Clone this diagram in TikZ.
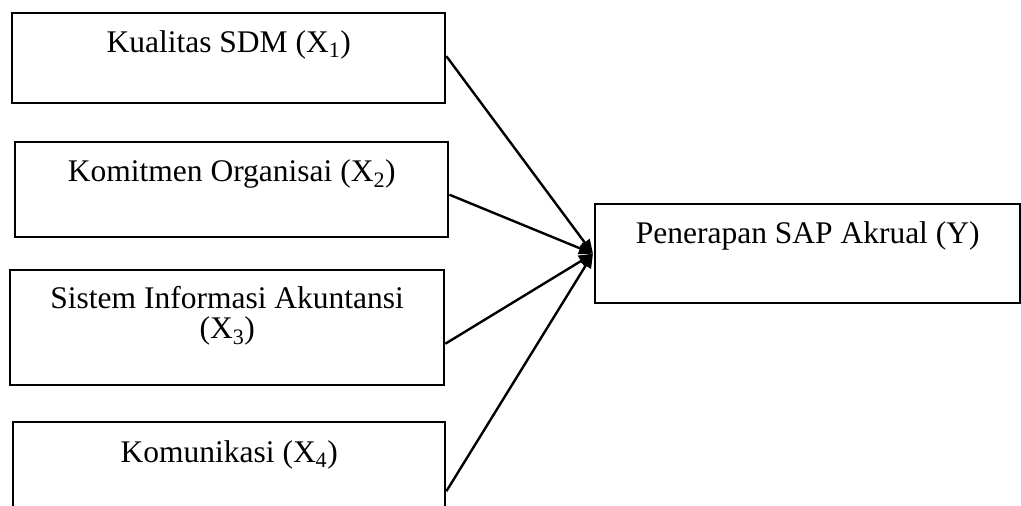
\documentclass[tikz,border=0pt]{standalone}
\usepackage{fontspec}
\setmainfont{Liberation Serif}
\usetikzlibrary{arrows.meta}
\begin{document}
\begin{tikzpicture}[x=1pt,y=-1pt,
  box/.style={draw=black, line width=2.4pt, rectangle, inner sep=0pt, anchor=north west},
  txt/.style={font=\fontsize{31.5}{30}\selectfont, inner sep=0pt, anchor=base, align=center},
  link/.style={draw=black, line width=2.4pt, -{Triangle[length=14pt,width=12pt]}}]
\useasboundingbox (0,0) rectangle (1021,506);
\clip (0,0) rectangle (1021,506);
\node[box, minimum width=433pt, minimum height=90pt] (b1) at (11,12) {};
\node[box, minimum width=433pt, minimum height=95pt] (b2) at (14,141) {};
\node[box, minimum width=434pt, minimum height=115pt] (b3) at (9,269) {};
\node[box, minimum width=432pt, minimum height=110pt] (b4) at (12,421) {};
\node[box, minimum width=425pt, minimum height=99pt] (y) at (594,203) {};
\node[txt] (t1) at ([yshift=-40pt]b1.north) {Kualitas SDM (X\textsubscript{1})};
\node[txt] (t2) at ([yshift=-40pt]b2.north) {Komitmen Organisai (X\textsubscript{2})};
\node[txt] (t3) at ([yshift=-69pt]b3.north) {Sistem Informasi Akuntansi\\(X\textsubscript{3})};
\node[txt] (t4) at ([yshift=-41pt]b4.north) {Komunikasi (X\textsubscript{4})};
\node[txt] (ty) at ([yshift=-40pt]y.north) {Penerapan SAP Akrual (Y)};
\draw[link] ([yshift=2pt]b1.east) -- ([xshift=-1pt]y.west);
\draw[link] ([yshift=-5pt]b2.east) -- ([xshift=-1pt]y.west);
\draw[link] ([yshift=-16pt]b3.east) -- ([xshift=-1pt]y.west);
\draw[link] ([yshift=-14pt]b4.east) -- ([xshift=-1pt]y.west);
\end{tikzpicture}
\end{document}
